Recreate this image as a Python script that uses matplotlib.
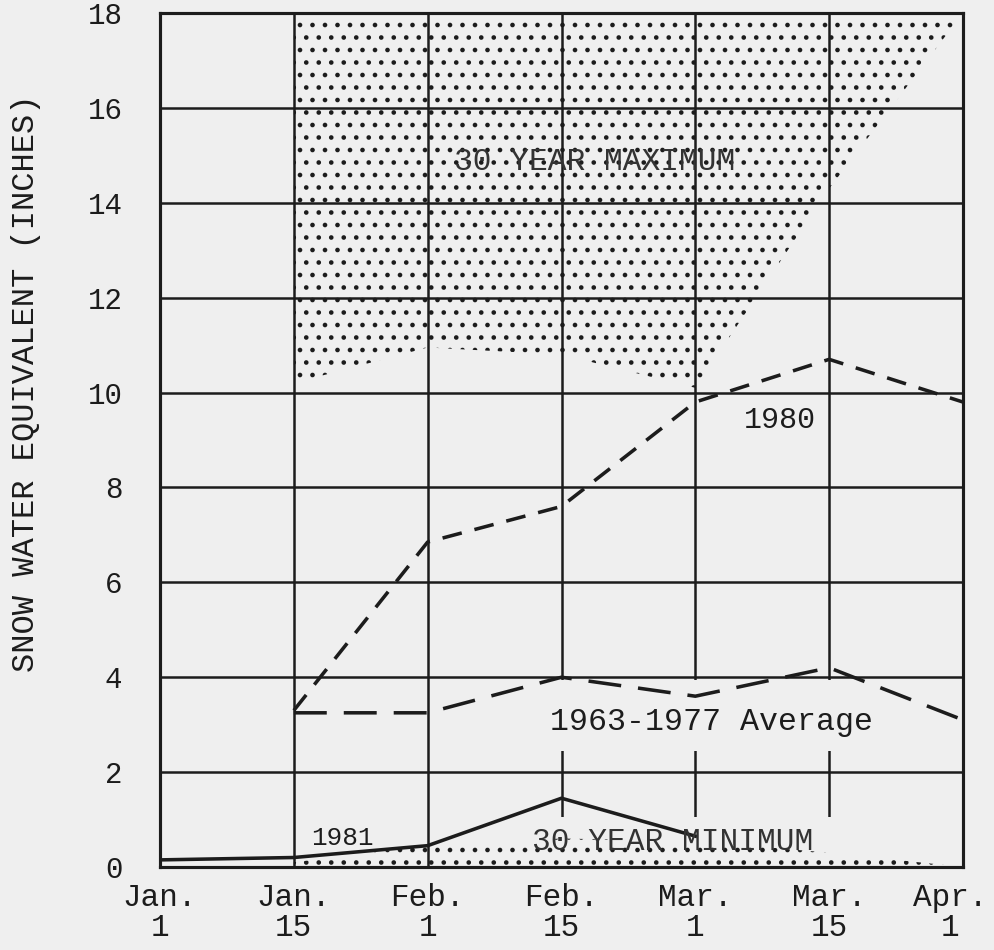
import numpy as np
import matplotlib
matplotlib.use('Agg')
import matplotlib.pyplot as plt
from matplotlib.patches import Rectangle
from matplotlib.transforms import ScaledTranslation

# dates along the x axis (equally spaced on the original chart)
dates = ['Jan.\n1', 'Jan.\n15', 'Feb.\n1', 'Feb.\n15', 'Mar.\n1', 'Mar.\n15', 'Apr.\n1']
nan = np.nan
swe_1980 = [nan, 3.3, 6.85, 7.6, 9.8, 10.7, 9.8]
swe_avg = [nan, 3.25, 3.25, 4.0, 3.6, 4.2, 3.1]
swe_1981 = [0.15, 0.2, 0.45, 1.45, 0.65, nan, nan]
max_lower = [nan, 10.2, 10.95, 10.8, 10.1, 14.3, 18.0]
min_upper = [nan, 0.1, 0.45, 0.6, 0.55, 0.3, 0.0]
y_ticks = [0, 2, 4, 6, 8, 10, 12, 14, 16, 18]

bg = '#efefef'
ink = '#1c1c1c'
DPI = 150
plt.rcParams['font.family'] = ['Liberation Mono', 'DejaVu Sans Mono']
plt.rcParams['hatch.linewidth'] = 1.0

fig = plt.figure(figsize=(994 / DPI, 950 / DPI), dpi=DPI, facecolor=bg)
ax = fig.add_axes([160 / 994, 1 - 867 / 950, 803 / 994, 854 / 950])
ax.set_facecolor(bg)

x = np.arange(len(dates))

# 30 year maximum / minimum envelopes (dotted)
ml = np.array(max_lower)
ok = ~np.isnan(ml)
ax.fill_between(x[ok], ml[ok], 18, facecolor='none', edgecolor=ink,
                hatch='..', linewidth=0, zorder=0.3)
mu = np.array(min_upper)
ok = ~np.isnan(mu)
ax.fill_between(x[ok], 0, mu[ok], facecolor='none', edgecolor=ink,
                hatch='..', linewidth=0, zorder=0.9)

# blank areas where the grid is interrupted by labels
ax.add_patch(Rectangle((2.88, 2.45), 2.24, 1.5, facecolor=bg, edgecolor='none', zorder=0.8))
ax.add_patch(Rectangle((2.88, 0.03), 2.24, 1.02, facecolor=bg, edgecolor='none', zorder=0.8))

ax.plot(x, swe_1980, color=ink, lw=1.7, dashes=(5.6, 3.7), zorder=3)
ax.plot(x, swe_avg, color=ink, lw=1.7, dashes=(9.3, 4.8), zorder=3)
ax.plot(x, swe_1981, color=ink, lw=1.7, zorder=3)

ax.text(3.25, 14.85, '30 YEAR MAXIMUM', ha='center', va='center', fontsize=15, color='#333333', zorder=4)
ax.text(4.63, 9.43, '1980', ha='center', va='center', fontsize=14.4, color=ink, zorder=4)
ax.text(4.12, 3.06, '1963-1977 Average', ha='center', va='center', fontsize=15.2, color=ink, zorder=4)
ax.text(1.36, 0.61, '1981', ha='center', va='center', fontsize=12.5, color=ink, zorder=4)
ax.text(3.83, 0.53, '30 YEAR MINIMUM', ha='center', va='center', fontsize=15, color='#333333', zorder=4)

ax.set_xlim(0, 6)
ax.set_ylim(0, 18)
ax.set_xticks(x)
ax.set_xticklabels(dates, fontsize=14.9, linespacing=1.0, color=ink)
ax.set_yticks(y_ticks)
ax.set_yticklabels([str(v) for v in y_ticks], fontsize=14, color=ink)
ax.tick_params(axis='x', length=0, pad=7.7)
ax.tick_params(axis='y', length=0, pad=18)
ax.set_axisbelow(True)
ax.grid(True, color=ink, lw=1.2)
for s in ax.spines.values():
    s.set_linewidth(1.5)
    s.set_color(ink)

# last date label sits a little left of its line
lab = ax.get_xticklabels()[-1]
lab.set_transform(lab.get_transform() + ScaledTranslation(-13 / DPI, 0, fig.dpi_scale_trans))

ax.set_ylabel('SNOW WATER EQUIVALENT (INCHES)', fontsize=15.4, color=ink, va='center')
ax.yaxis.set_label_coords((26 - 160) / 803, (867 - 383) / 854)

fig.savefig('out.png', dpi=DPI, facecolor=bg)
